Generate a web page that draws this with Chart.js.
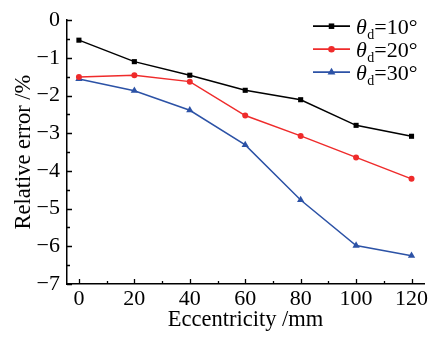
<!DOCTYPE html>
<html><head><meta charset="utf-8">
<script src="https://cdn.jsdelivr.net/npm/chart.js@4.4.1/dist/chart.umd.min.js"></script>
<style>html,body{margin:0;padding:0;background:#fff}#wrap{width:440px;height:337px;position:relative}</style>
</head><body><div id="wrap"><canvas id="c" width="440" height="337"></canvas></div>
<script>
const eccentricity = [0, 20, 40, 60, 80, 100, 120];
const err10 = [-0.53, -1.10, -1.46, -1.86, -2.11, -2.79, -3.08];
const err20 = [-1.51, -1.46, -1.63, -2.53, -3.07, -3.64, -4.21];
const err30 = [-1.56, -1.87, -2.39, -3.31, -4.77, -5.98, -6.25];
const seriesAngles = ['10°', '20°', '30°'];
const xTicks = [0, 20, 40, 60, 80, 100, 120];
const xMinorTicks = [10, 30, 50, 70, 90, 110];
const yTicks = [0, -1, -2, -3, -4, -5, -6, -7];
const yMinorTicks = [-0.5, -1.5, -2.5, -3.5, -4.5, -5.5, -6.5];

const FONT = "'Liberation Serif', 'DejaVu Serif', serif";
const colors = ['#000000', '#ef2b2b', '#2c52a6'];
const styles = ['rect', 'circle', 'triangle'];
const radii = [3.6, 3, 4.2];
const series = [err10, err20, err30];

const datasets = series.map((vals, i) => ({
  label: 'θd=' + seriesAngles[i],
  data: eccentricity.map((x, j) => ({x: x, y: vals[j]})),
  borderColor: colors[i],
  backgroundColor: colors[i],
  borderWidth: 1.5,
  pointStyle: styles[i],
  pointRadius: radii[i],
  pointBorderWidth: 0,
  pointBackgroundColor: colors[i],
  tension: 0,
  clip: false
}));

function drawMarker(ctx, style, x, y, r, color) {
  ctx.save();
  ctx.fillStyle = color;
  ctx.beginPath();
  if (style === 'rect') {
    const s = r * Math.SQRT1_2;
    ctx.rect(x - s, y - s, 2 * s, 2 * s);
  } else if (style === 'circle') {
    ctx.arc(x, y, r, 0, Math.PI * 2);
  } else {
    const rad = r;
    ctx.moveTo(x, y - rad);
    ctx.lineTo(x + rad * Math.sin(2 * Math.PI / 3), y - rad * Math.cos(2 * Math.PI / 3));
    ctx.lineTo(x + rad * Math.sin(4 * Math.PI / 3), y - rad * Math.cos(4 * Math.PI / 3));
    ctx.closePath();
  }
  ctx.fill();
  ctx.restore();
}

const inwardTicks = {
  id: 'inwardTicks',
  afterDraw(chart) {
    const {ctx} = chart;
    const xs = chart.scales.x, ys = chart.scales.y;
    const area = chart.chartArea;
    ctx.save();
    ctx.strokeStyle = '#000';
    ctx.lineWidth = 1.3;
    ctx.beginPath();
    yTicks.forEach(v => { const p = Math.round(ys.getPixelForValue(v)) + 0.5; ctx.moveTo(area.left, p); ctx.lineTo(area.left + 5, p); });
    yMinorTicks.forEach(v => { const p = Math.round(ys.getPixelForValue(v)) + 0.5; ctx.moveTo(area.left, p); ctx.lineTo(area.left + 3, p); });
    xTicks.forEach(v => { const p = Math.round(xs.getPixelForValue(v)) + 0.5; ctx.moveTo(p, area.bottom); ctx.lineTo(p, area.bottom - 5); });
    xMinorTicks.forEach(v => { const p = Math.round(xs.getPixelForValue(v)) + 0.5; ctx.moveTo(p, area.bottom); ctx.lineTo(p, area.bottom - 3); });
    ctx.stroke();
    ctx.restore();
  }
};

const customLegend = {
  id: 'customLegend',
  afterDatasetsDraw(chart) {
    const {ctx} = chart;
    const area = chart.chartArea;
    const x0 = area.right - 111;
    chart.data.datasets.forEach((ds, i) => {
      const y = area.top + 6 + i * 23;
      ctx.save();
      ctx.strokeStyle = colors[i];
      ctx.lineWidth = 1.8;
      ctx.beginPath();
      ctx.moveTo(x0, y); ctx.lineTo(x0 + 37, y);
      ctx.stroke();
      drawMarker(ctx, styles[i], x0 + 18.5, y, radii[i] + 0.3, colors[i]);
      ctx.fillStyle = '#000';
      ctx.textBaseline = 'alphabetic';
      ctx.textAlign = 'left';
      let tx = x0 + 43;
      const base = y + 8;
      ctx.font = 'italic 22px ' + FONT;
      ctx.fillText('θ', tx, base);
      tx += ctx.measureText('θ').width + 0.5;
      ctx.font = '14px ' + FONT;
      ctx.fillText('d', tx, base + 5);
      tx += ctx.measureText('d').width;
      ctx.font = '22px ' + FONT;
      ctx.fillText('=' + seriesAngles[i], tx, base);
      ctx.restore();
    });
  }
};

const fmt = v => (v < 0 ? '\u2212' + Math.abs(v) : String(v));

new Chart(document.getElementById('c'), {
  type: 'line',
  data: {datasets},
  options: {
    responsive: false,
    animation: false,
    devicePixelRatio: 1,
    layout: {padding: {top: 18, right: 16, left: 0, bottom: 0}},
    plugins: {legend: {display: false}, tooltip: {enabled: false}},
    scales: {
      x: {
        type: 'linear',
        min: -4.3,
        max: 124.5,
        afterBuildTicks: s => { s.ticks = xTicks.map(v => ({value: v})); },
        afterFit: s => { s.height = 53; },
        grid: {display: false, drawTicks: false},
        border: {display: true, color: '#000', width: 1.5},
        ticks: {color: '#000', font: {family: FONT, size: 22}, padding: 2, callback: fmt, maxRotation: 0, autoSkip: false},
        title: {display: true, text: 'Eccentricity /mm', color: '#000', font: {family: FONT, size: 22.5}, padding: {top: 0, bottom: 3.5}}
      },
      y: {
        type: 'linear',
        min: -7,
        max: 0,
        afterBuildTicks: s => { s.ticks = yTicks.map(v => ({value: v})); },
        afterFit: s => { s.width = 67; },
        grid: {display: false, drawTicks: false},
        border: {display: true, color: '#000', width: 1.5},
        ticks: {color: '#000', font: {family: FONT, size: 22}, padding: 7, callback: fmt, autoSkip: false},
        title: {display: true, text: 'Relative error /%', color: '#000', font: {family: FONT, size: 22.5}, padding: {top: 10.5, bottom: 0}}
      }
    }
  },
  plugins: [inwardTicks, customLegend]
});
</script>
</body></html>
